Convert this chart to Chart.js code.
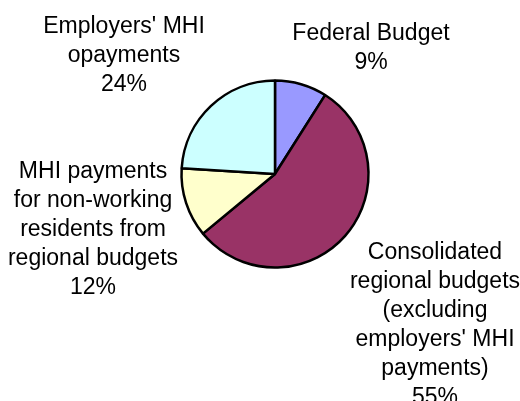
<!DOCTYPE html>
<html>
<head>
<meta charset="utf-8">
<script src="https://cdn.jsdelivr.net/npm/chart.js@4.4.1/dist/chart.umd.min.js"></script>
<style>
  html, body { margin: 0; padding: 0; background: #ffffff; }
  #wrap { position: relative; width: 520px; height: 401px; }
</style>
</head>
<body>
<div id="wrap"><canvas id="pie" width="520" height="401"></canvas></div>
<script>
// Sources of compulsory medical insurance (MHI) funding, share in percent
const categories = [
  ['Federal Budget'],
  ['Consolidated', 'regional budgets', '(excluding', "employers' MHI", 'payments)'],
  ['MHI payments', 'for non-working', 'residents from', 'regional budgets'],
  ["Employers' MHI", 'opayments']
];
const shares = [9, 55, 12, 24];
const sliceColors = ['#9999FF', '#993366', '#FFFFCC', '#CCFFFF'];

// Where each label block sits relative to the pie centre (x of the block centre, y of first baseline)
const labelLayout = [
  { dx: 96,   dy: -134 },
  { dx: 160,  dy: 84.5 },
  { dx: -182, dy: 3.5 },
  { dx: -151, dy: -141 }
];
const LINE_HEIGHT = 29;

const outsideLabels = {
  id: 'outsideLabels',
  afterDatasetsDraw(chart) {
    const ctx = chart.ctx;
    const meta = chart.getDatasetMeta(0);
    const data = chart.data.datasets[0].data;
    ctx.save();
    ctx.font = '23px "Liberation Sans", Arial, sans-serif';
    ctx.fillStyle = '#000000';
    ctx.textAlign = 'center';
    ctx.textBaseline = 'alphabetic';
    meta.data.forEach((arc, i) => {
      const lines = chart.data.labels[i].concat([data[i] + '%']);
      const pos = labelLayout[i];
      const x = arc.x + pos.dx;
      let y = arc.y + pos.dy;
      lines.forEach(line => {
        ctx.fillText(line, x, y);
        y += LINE_HEIGHT;
      });
    });
    ctx.restore();
  }
};

new Chart(document.getElementById('pie'), {
  type: 'pie',
  data: {
    labels: categories,
    datasets: [{
      data: shares,
      backgroundColor: sliceColors,
      borderColor: '#000000',
      borderWidth: 2.5,
      radius: 93.5
    }]
  },
  options: {
    responsive: false,
    animation: false,
    layout: { padding: { left: 178, right: 148, top: 78, bottom: 131 } },
    plugins: {
      legend: { display: false },
      tooltip: { enabled: false }
    }
  },
  plugins: [outsideLabels]
});
</script>
</body>
</html>
